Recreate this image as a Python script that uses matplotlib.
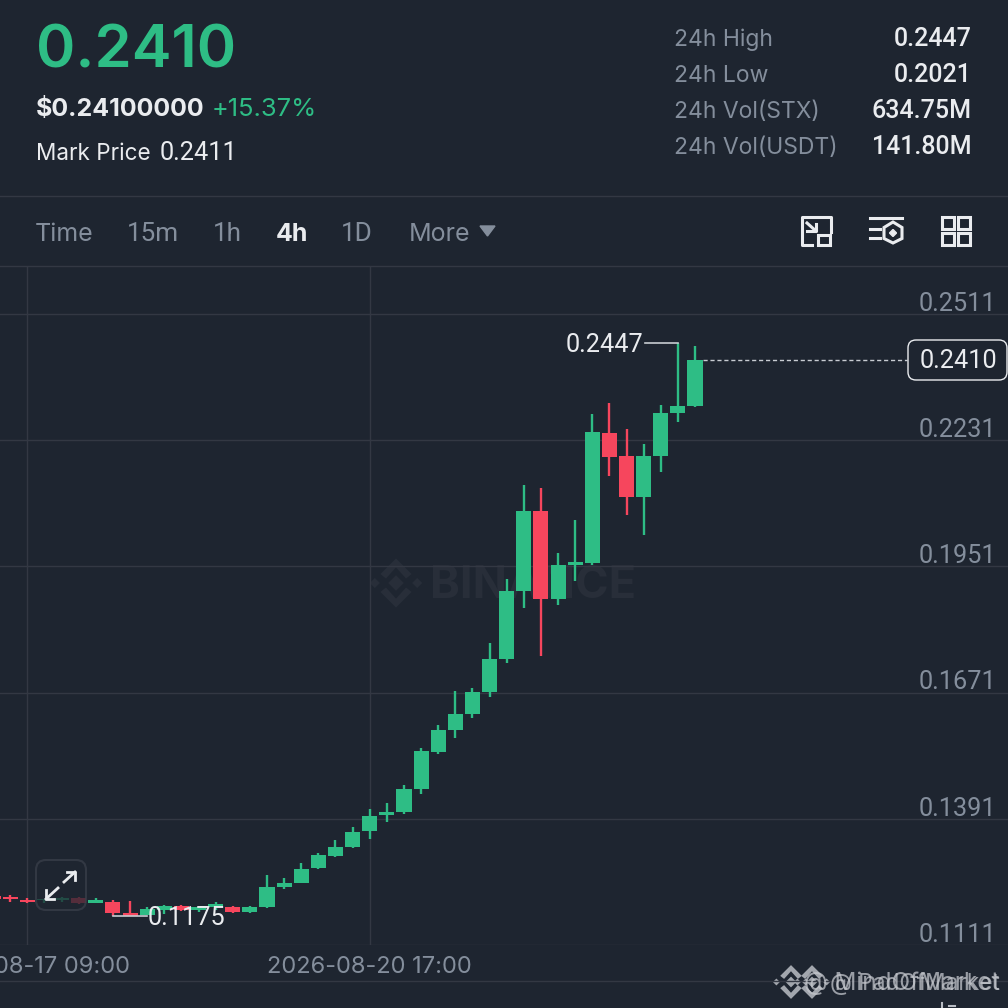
import matplotlib
matplotlib.use("Agg")
import matplotlib.pyplot as plt
from matplotlib.patches import FancyBboxPatch, Polygon, Rectangle

plt.rcParams['font.family'] = ['Inter', 'DejaVu Sans']

# 4h candles, oldest first
opens = [0.1219, 0.1217, 0.1211, 0.1210, 0.1211, 0.1215, 0.1205, 0.1207, 0.1182, 0.1178, 0.1189,
         0.1198, 0.1189, 0.1195, 0.1195, 0.1184, 0.1195, 0.1240, 0.1249, 0.1281, 0.1309, 0.1328,
         0.1364, 0.1400, 0.1406, 0.1457, 0.1540, 0.1587, 0.1624, 0.1673, 0.1745, 0.1897, 0.2074,
         0.1879, 0.1955, 0.1959, 0.2247, 0.2195, 0.2106, 0.2197, 0.2291, 0.2307]
closes = [0.1214, 0.1212, 0.1206, 0.1212, 0.1216, 0.1205, 0.1210, 0.1183, 0.1176, 0.1190, 0.1198,
          0.1189, 0.1196, 0.1202, 0.1185, 0.1195, 0.1240, 0.1248, 0.1280, 0.1310, 0.1328, 0.1362,
          0.1398, 0.1406, 0.1457, 0.1541, 0.1587, 0.1624, 0.1672, 0.1745, 0.1897, 0.2074, 0.1878,
          0.1955, 0.1960, 0.2249, 0.2194, 0.2106, 0.2197, 0.2291, 0.2306, 0.2410]
highs = [0.1222, 0.1223, 0.1215, 0.1214, 0.1218, 0.1217, 0.1215, 0.1210, 0.1208, 0.1195, 0.1200,
         0.1200, 0.1198, 0.1206, 0.1198, 0.1197, 0.1266, 0.1259, 0.1294, 0.1315, 0.1343, 0.1373,
         0.1413, 0.1426, 0.1466, 0.1548, 0.1599, 0.1675, 0.1681, 0.1782, 0.1922, 0.2132, 0.2125,
         0.1980, 0.2053, 0.2289, 0.2314, 0.2255, 0.2223, 0.2309, 0.2447, 0.2441]
lows = [0.1211, 0.1207, 0.1205, 0.1204, 0.1206, 0.1202, 0.1204, 0.1175, 0.1175, 0.1177, 0.1179,
        0.1187, 0.1184, 0.1189, 0.1182, 0.1183, 0.1194, 0.1235, 0.1248, 0.1280, 0.1306, 0.1327,
        0.1347, 0.1383, 0.1402, 0.1447, 0.1535, 0.1571, 0.1615, 0.1662, 0.1737, 0.1858, 0.1752,
        0.1866, 0.1919, 0.1953, 0.2152, 0.2064, 0.2020, 0.2161, 0.2271, 0.2305]
price_ticks = [0.1111, 0.1391, 0.1671, 0.1951, 0.2231, 0.2511]
date_ticks = [1, 21]
date_labels = ['2026-08-17 09:00', '2026-08-20 17:00']
stats_names = ['24h High', '24h Low', '24h Vol(STX)', '24h Vol(USDT)']
stats_values = ['0.2447', '0.2021', '634.75M', '141.80M']
tabs = ['Time', '15m', '1h', '4h', '1D', 'More']
tab_x = [35, 127, 213, 276, 341, 409]

BG = '#1E2530'
GREEN = '#2EBD85'
RED = '#F6465D'
GREY = '#848E9C'
WHITE = '#EAECEF'
GRID = '#333843'
NUM = ['Roboto', 'DejaVu Sans']   # tabular digits

fig = plt.figure(figsize=(10.08, 10.08), dpi=100, facecolor=BG)


def pixel_axes(z):
    a = fig.add_axes([0, 0, 1, 1], zorder=z)
    a.set_xlim(0, 1008)
    a.set_ylim(1008, 0)
    a.axis('off')
    return a


back = pixel_axes(0)
ui = pixel_axes(2)

# chart area, pixel rows 266..945
ax = fig.add_axes([0, 1 - 945 / 1008, 1, (945 - 266) / 1008], zorder=1)
ax.patch.set_visible(False)
ax.set_xlim(-0.596, 58.28)
ax.set_ylim(0.1111, 0.26175)
for s in ax.spines.values():
    s.set_visible(False)
ax.set_xticks(date_ticks)
ax.set_yticks(price_ticks)
ax.tick_params(length=0, labelbottom=False, labelleft=False)
ax.grid(True, color=GRID, lw=1)
ax.set_axisbelow(True)

# candles
xs = list(range(-1, len(opens) - 1))
colors = [GREEN if c >= o else RED for o, c in zip(opens, closes)]
ax.vlines(xs, lows, highs, colors=colors, lw=1.7, zorder=3)
ax.bar(xs, [abs(c - o) for o, c in zip(opens, closes)], bottom=[min(o, c) for o, c in zip(opens, closes)],
       width=0.88, color=colors, zorder=3)

# high / low / last price markers
hi_i = highs.index(max(highs))
lo_i = lows.index(min(lows))
ax.plot([xs[hi_i] - 1.95, xs[hi_i]], [max(highs), max(highs)], color='#C8CCD2', lw=1.2, zorder=4)
ax.plot([xs[lo_i], xs[lo_i] + 2], [min(lows), min(lows)], color='#C8CCD2', lw=1.2, zorder=4)
ax.annotate('0.2447', (xs[hi_i] - 2.0, max(highs)), xytext=(0, -1.5), textcoords='offset points',
            ha='right', va='center', color=WHITE, fontsize=18.2, family=NUM, zorder=5)
ax.annotate('0.1175', (xs[lo_i] + 2, min(lows)), xytext=(0, -1.5), textcoords='offset points',
            ha='left', va='center', color=WHITE, fontsize=18.2, family=NUM, zorder=5)
ax.plot([xs[-1] + 0.45, 52.4], [closes[-1], closes[-1]], color='#C8CCD2', lw=1, ls=(0, (3, 2)), zorder=4)

for p in price_ticks:
    ax.annotate(f'{p:.4f}', (1, p), xycoords=ax.get_yaxis_transform(), xytext=(-8.2, -1.3), textcoords='offset points',
                ha='right', va='bottom', color=GREY, fontsize=18.2, family=NUM)
for d, lab in zip(date_ticks, date_labels):
    ax.annotate(lab, (d, 0), xycoords=ax.get_xaxis_transform(), xytext=(0, -20), textcoords='offset points',
                ha='center', va='baseline', color=GREY, fontsize=17, annotation_clip=False)

# header
ui.text(36, 67.5, '0.2410', color=GREEN, fontsize=43, fontweight='semibold')
ui.text(36, 115.5, '$0.24100000', color=WHITE, fontsize=18, fontweight='bold')
ui.text(212, 115.5, '+15.37%', color=GREEN, fontsize=18.4)
ui.text(36, 160, 'Mark Price', color=WHITE, fontsize=16.2)
ui.text(160, 160, '0.2411', color=WHITE, fontsize=18.2, family=NUM)
for i, (n, v) in enumerate(zip(stats_names, stats_values)):
    y = 46 + 36 * i
    ui.text(674, y, n, color=GREY, fontsize=16.5)
    ui.text(972, y, v, color=WHITE, fontsize=18, fontweight='medium', ha='right', family=NUM)
ui.plot([0, 1008], [196, 196], color=GRID, lw=1)
ui.plot([0, 1008], [266, 266], color=GRID, lw=1)
ui.plot([0, 1008], [981, 981], color=GRID, lw=1)

# tabs
for t, x in zip(tabs, tab_x):
    on = t == '4h'
    num_tab = t in ('15m', '1h', '1D')
    ui.text(x, 241, t, color=WHITE if on else GREY, fontsize=18.8 if num_tab else 18,
            fontweight='bold' if on else 'normal', family=NUM if num_tab else plt.rcParams['font.family'])
ui.add_patch(Polygon([(480, 226), (495, 226), (487.5, 236)], color=GREY))

# toolbar icons
lw_i = 2.2
ui.plot([812, 802, 802, 831, 831], [245, 245, 217, 217, 232], color=WHITE, lw=lw_i)
ui.add_patch(Rectangle((818, 235), 12, 10, fill=False, ec=WHITE, lw=lw_i))
ui.plot([807, 816], [223, 231], color=WHITE, lw=lw_i)
ui.plot([807, 816, 816], [231, 231, 224], color=WHITE, lw=lw_i)
ui.plot([870, 902], [218, 218], color=WHITE, lw=lw_i)
ui.plot([870, 880], [229, 229], color=WHITE, lw=lw_i)
ui.plot([870, 880], [238, 238], color=WHITE, lw=lw_i)
ui.add_patch(Polygon([(893, 222), (902, 227.5), (902, 238.5), (893, 243), (884, 238.5), (884, 227.5)],
                     fill=False, ec=WHITE, lw=lw_i))
ui.add_patch(Polygon([(893, 229.5), (896.5, 233), (893, 236.5), (889.5, 233)], color=WHITE))
for x0 in (942, 958):
    for y0 in (217, 233):
        ui.add_patch(Rectangle((x0, y0), 12, 12, fill=False, ec=WHITE, lw=lw_i))

# last price pill
ui.add_patch(FancyBboxPatch((913, 345), 89, 30, boxstyle='round,pad=5,rounding_size=8', fc=BG, ec=WHITE, lw=1, zorder=1))
ui.text(997, 368, f'{closes[-1]:.4f}', color=WHITE, fontsize=18.2, ha='right', family=NUM, zorder=2)

# expand button
ui.add_patch(FancyBboxPatch((41, 865), 40, 40, boxstyle='round,pad=5,rounding_size=10', fc=BG, ec='#3A3F4A',
                            lw=1.5, alpha=0.75))
ui.plot([46, 58], [899, 888], color=WHITE, lw=2)
ui.plot([46, 46, 54], [890, 899, 899], color=WHITE, lw=2)
ui.plot([64, 75], [882, 872], color=WHITE, lw=2)
ui.plot([67, 75, 75], [872, 872, 880], color=WHITE, lw=2)

# faint exchange mark behind the candles
MARK = '#282E39'


def logo(a, cx, cy, r, col, z=1, alpha=1):
    s = r / 26
    for dx, dy, h in [(0, 0, 7), (-19, 0, 4.5), (19, 0, 4.5)]:
        a.add_patch(Polygon([(cx + dx * s, cy + (dy - h) * s), (cx + (dx + h) * s, cy + dy * s),
                             (cx + dx * s, cy + (dy + h) * s), (cx + (dx - h) * s, cy + dy * s)],
                            color=col, zorder=z, alpha=alpha, lw=0))
    for sy in (-1, 1):
        a.add_patch(Polygon([(cx - 14 * s, cy + sy * 8 * s), (cx, cy + sy * 22 * s), (cx + 14 * s, cy + sy * 8 * s),
                             (cx + 9 * s, cy + sy * 4 * s), (cx, cy + sy * 14 * s), (cx - 9 * s, cy + sy * 4 * s)],
                            color=col, zorder=z, alpha=alpha, lw=0))


logo(back, 396, 583, 29, MARK)
back.text(430, 598, 'BINANCE', color=MARK, fontsize=32.5, fontweight='bold')

# bottom right credit, two layers laid over each other
for lx in (791, 812):
    logo(ui, lx, 982, 20, '#C4C7CD', alpha=0.8)
ui.text(1000, 990, '@ MindOfMarket', color='#C4C7CD', fontsize=17.5, ha='right', alpha=0.75)
ui.text(1000, 990, '@ PadOfMarket', color='#C4C7CD', fontsize=16.3, ha='right', alpha=0.75)
ui.plot([942, 942], [1003, 1008], color='#B9BDC4', lw=1.5)
ui.plot([949, 955], [1006, 1006], color='#B9BDC4', lw=1.5)

fig.savefig('out.png', dpi=100, facecolor=BG)
